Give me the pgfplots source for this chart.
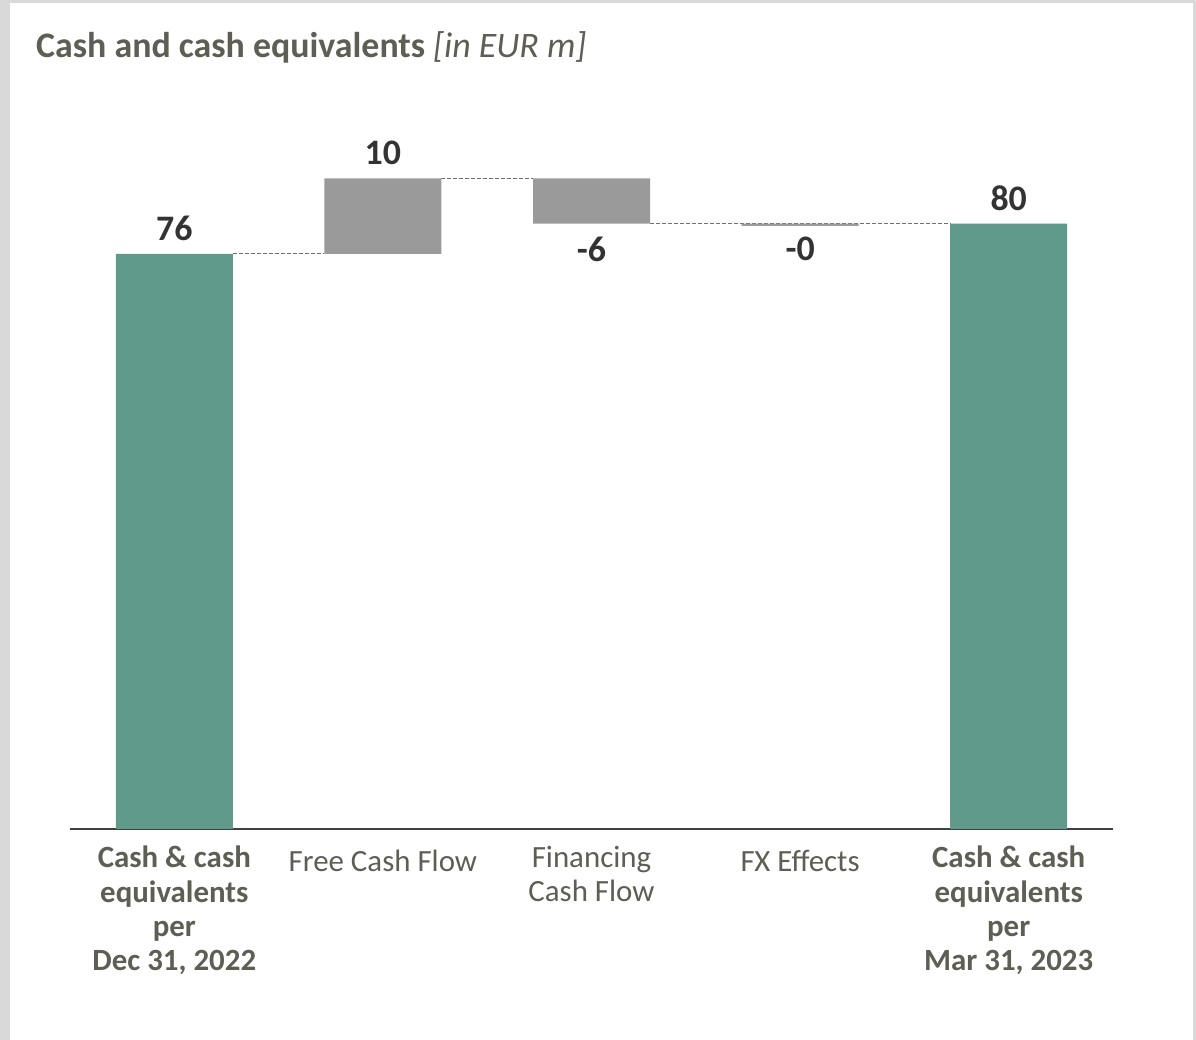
\documentclass[border=0pt]{standalone}
\usepackage{pgfplots}
\pgfplotsset{compat=1.18}
\usepackage{fontspec}
\setmainfont{Carlito}

\definecolor{cashteal}{HTML}{5F9A8B}
\definecolor{flowgray}{HTML}{9A9A9A}
\definecolor{labelgray}{HTML}{5E5E54}
\definecolor{valuedark}{HTML}{333333}
\definecolor{framegray}{HTML}{D9D9D9}
\definecolor{axisdark}{HTML}{404040}
\definecolor{connector}{HTML}{6F6F6F}

\pgfplotsset{
  bridge/.style={
    scale only axis, width=1043bp, height=756.6bp,
    at={(70bp,211bp)}, anchor=south west,
    xmin=-0.5, xmax=4.5, ymin=0, ymax=100,
    clip=false,
  },
}

\begin{document}
\begin{tikzpicture}
% page frame
\fill[framegray] (0bp,0bp) rectangle (1196bp,1040bp);
\fill[white] (10bp,0bp) rectangle (1193bp,1037bp);

% title
\node[anchor=base west, inner sep=0pt, text=labelgray,
      font=\fontsize{36}{40}\selectfont] at (36bp,982bp)
  {\textbf{Cash and cash equivalents} \textit{[in EUR m]}};

% connectors and value labels
\begin{axis}[bridge, hide axis]
  \addplot[connector, line width=1bp, dash pattern=on 4bp off 2bp]
    coordinates {(0.28,76) (0.72,76)};
  \addplot[connector, line width=1bp, dash pattern=on 4bp off 2bp]
    coordinates {(1.28,86) (1.72,86)};
  \addplot[connector, line width=1bp, dash pattern=on 4bp off 2bp]
    coordinates {(2.28,80) (3.72,80)};

  \addplot[draw=none, mark=none, nodes near coords, point meta=explicit symbolic,
    nodes near coords style={anchor=south, inner sep=0pt, yshift=13bp,
      text=valuedark, font=\fontsize{36}{40}\selectfont\bfseries}]
    coordinates {(0,76)[76] (1,86)[10] (4,80)[80]};
  \addplot[draw=none, mark=none, nodes near coords, point meta=explicit symbolic,
    nodes near coords style={anchor=north, inner sep=0pt, yshift=-13bp,
      text=valuedark, font=\fontsize{36}{40}\selectfont\bfseries}]
    coordinates {(2,80)[-6] (3,80)[-0]};
\end{axis}

% bars
\begin{axis}[bridge,
  ybar stacked, bar width=117bp,
  axis x line*=bottom, axis y line=none,
  x axis line style={draw=axisdark, line width=2bp},
  major tick length=0pt, ytick=\empty,
  xtick={0,2,4},
  xticklabels={
    {\textbf{Cash \& cash}\\\textbf{equivalents}\\\textbf{per}\\\textbf{Dec 31, 2022}},
    {Financing\\Cash Flow},
    {\textbf{Cash \& cash}\\\textbf{equivalents}\\\textbf{per}\\\textbf{Mar 31, 2023}}},
  extra x ticks={1,3},
  extra x tick labels={{Free Cash Flow},{FX Effects}},
  extra x tick style={xticklabel style={yshift=-4bp}},
  xticklabel style={align=center, anchor=north, inner sep=0pt, yshift=-17bp,
    text=labelgray, font=\fontsize{31}{34.5}\selectfont},
]
  % invisible base of each floating bar
  \addplot[fill=none, draw=none] coordinates {(0,0) (1,76) (2,80) (3,79.7) (4,0)};
  % opening and closing balance
  \addplot[fill=cashteal, draw=none] coordinates {(0,76) (1,0) (2,0) (3,0) (4,80)};
  % movements (absolute size)
  \addplot[fill=flowgray, draw=none] coordinates {(0,0) (1,10) (2,6) (3,0.3) (4,0)};
\end{axis}
\end{tikzpicture}
\end{document}
